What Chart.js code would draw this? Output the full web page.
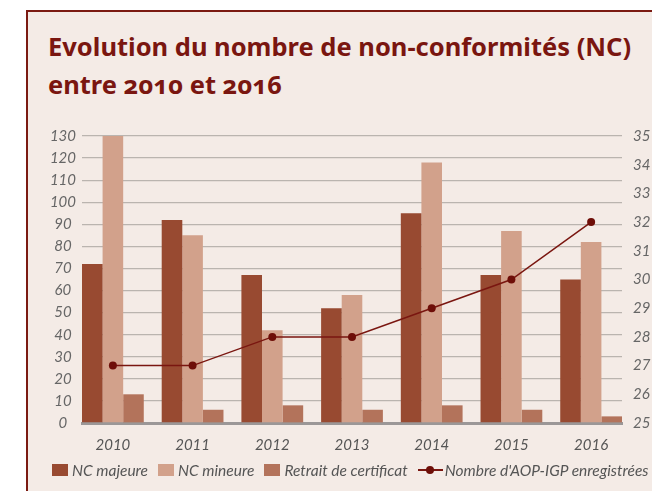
<!DOCTYPE html>
<html>
<head>
<meta charset="utf-8">
<script src="https://cdn.jsdelivr.net/npm/chart.js@4"></script>
<style>
  body { margin: 0; background: #fff; width: 652px; height: 491px; overflow: hidden; position: relative; }
  #box { position: absolute; left: 26px; top: 10px; width: 640px; height: 500px;
         border: 2px solid #7b1a12; background: #f4ebe6; }
  #title { position: absolute; left: 48px; top: 27px; margin: 0;
           font-family: "Noto Sans", sans-serif; font-weight: bold; font-size: 25.5px;
           line-height: 38px; color: #7a1610; font-variant-numeric: oldstyle-nums; }
  #chart { position: absolute; left: 0; top: 0; }
  #legend { position: absolute; left: 52px; top: 461px; display: flex; white-space: nowrap;
            font-family: Lato, sans-serif; font-style: italic; font-size: 15.5px; color: #555; }
  #legend span.item { display: flex; align-items: center; margin-right: 10px; }
  #legend i.sw { display: inline-block; width: 16px; height: 12px; margin-right: 4px; }
  #legend i.ln { position: relative; display: inline-block; width: 25px; height: 12px; margin-right: 2px; }
  #legend i.ln:before { content: ""; position: absolute; left: 0; right: 0; top: 5px; height: 2px; background: #7a1610; }
  #legend i.ln:after { content: ""; position: absolute; left: 8px; top: 2px; width: 8px; height: 8px; border-radius: 50%; background: #6e0e08; }
</style>
</head>
<body>
<div id="box"></div>
<h1 id="title">Evolution du nombre de non-conformités (NC)<br>entre 2010 et 2016</h1>
<canvas id="chart" width="652" height="491"></canvas>
<div id="legend"></div>
<script>
// data
const years = ['2010', '2011', '2012', '2013', '2014', '2015', '2016'];
const ncMajeure = [72, 92, 67, 52, 95, 67, 65];
const ncMineure = [130, 85, 42, 58, 118, 87, 82];
const retrait = [13, 6, 8, 6, 8, 6, 3];
const nbAop = [27, 27, 28, 28, 29, 30, 32];

const names = ['NC majeure', 'NC mineure', 'Retrait de certificat', "Nombre d'AOP-IGP enregistrées"];
const colors = ['#984a31', '#d2a18b', '#b3735b', '#7a1610'];

const tickFont = { family: 'Lato', style: 'italic', size: 15 };

function pts(arr) {
    return arr.map((v, i) => ({ x: i, y: v }));
}

const bars = [ncMajeure, ncMineure, retrait].map((arr, k) => ({
    type: 'bar',
    label: names[k],
    data: pts(arr),
    backgroundColor: colors[k],
    yAxisID: 'y',
    order: 1,
    categoryPercentage: 0.775,
    barPercentage: 1
}));

const ctx = document.getElementById('chart');

new Chart(ctx, {
    data: {
        datasets: [...bars, {
            type: 'line',
            label: names[3],
            data: pts(nbAop),
            borderColor: colors[3],
            borderWidth: 1.5,
            pointRadius: 4,
            pointBackgroundColor: '#6e0e08',
            pointBorderWidth: 0,
            yAxisID: 'y1',
            order: 0
        }]
    },
    options: {
        responsive: false,
        animation: false,
        layout: { padding: { top: 136, bottom: 40, left: 0, right: 0 } },
        plugins: { legend: { display: false }, tooltip: { enabled: false } },
        scales: {
            x: {
                type: 'linear',
                offset: false,
                min: -0.3875,
                max: 6.3875,
                afterBuildTicks: s => { s.ticks = years.map((_, i) => ({ value: i })); },
                afterFit: s => { s.height = 28; },
                grid: { display: false, offset: false },
                border: { display: true, color: '#9b9797', width: 3 },
                ticks: {
                    callback: v => years[v],
                    font: tickFont, color: '#555', padding: 5, maxRotation: 0
                }
            },
            y: {
                position: 'left',
                min: 0, max: 130,
                afterFit: s => { s.width = 82; },
                ticks: { stepSize: 10, font: tickFont, color: '#666', padding: 6, crossAlign: 'center' },
                grid: {
                    color: c => c.tick.value === 0 ? 'rgba(0,0,0,0)' : '#bab4af',
                    lineWidth: 1.3, drawTicks: false, tickLength: 0
                },
                border: { display: false }
            },
            y1: {
                position: 'right',
                min: 25, max: 35,
                afterFit: s => { s.width = 30; },
                ticks: { stepSize: 1, font: tickFont, color: '#666', padding: 11 },
                grid: { display: false, drawTicks: false, tickLength: 0 },
                border: { display: false }
            }
        }
    }
});

// legend
const legend = document.getElementById('legend');
names.forEach((n, k) => {
    const sw = k < 3 ? `<i class="sw" style="background:${colors[k]}"></i>` : '<i class="ln"></i>';
    legend.innerHTML += `<span class="item">${sw}${n}</span>`;
});
</script>
</body>
</html>
